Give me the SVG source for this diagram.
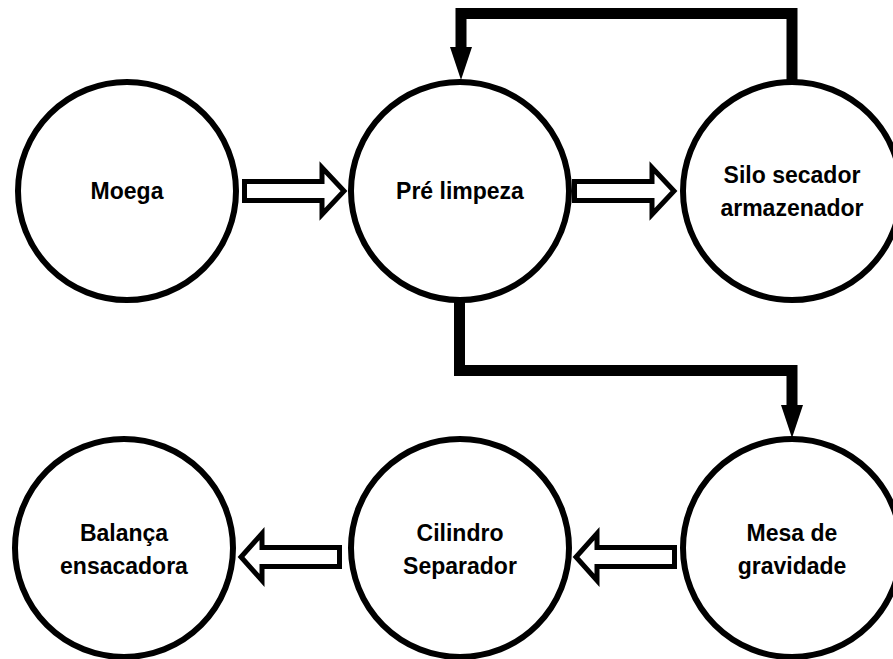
<svg xmlns="http://www.w3.org/2000/svg" width="893" height="659" viewBox="0 0 893 659">
  <style>
    .node { fill: #ffffff; stroke: #000000; stroke-width: 6; }
    .label { font-family: "Liberation Sans", Arial, sans-serif; font-weight: bold; font-size: 23px; fill: #000000; text-anchor: middle; }
    .block { fill: #ffffff; stroke: #000000; stroke-width: 5; stroke-linejoin: miter; }
    .conn { fill: none; stroke: #000000; stroke-width: 11; stroke-linejoin: miter; }
  </style>
  <defs>
    <marker id="head" markerUnits="userSpaceOnUse" markerWidth="33" markerHeight="22" refX="0" refY="11" orient="auto">
      <path d="M0,0 L33,11 L0,22 z" fill="#000000"/>
    </marker>
  </defs>
  <rect x="0" y="0" width="893" height="659" fill="#ffffff"/>

  <g id="connectors">
    <path class="conn" d="M792,82 V13.5 H461 V47" marker-end="url(#head)"/>
    <path class="conn" d="M459.5,300 V370.5 H792 V405" marker-end="url(#head)"/>
    <polygon class="block" points="244.5,181.5 322,181.5 322,167.5 344,191 322,214.5 322,200.5 244.5,200.5"/>
    <polygon class="block" points="574.5,181.5 652,181.5 652,167.5 674,191 652,214.5 652,200.5 574.5,200.5"/>
    <polygon class="block" points="339.5,547.5 262,547.5 262,533.5 241,557 262,580.5 262,566.5 339.5,566.5"/>
    <polygon class="block" points="674.5,547.5 597,547.5 597,533.5 576,557 597,580.5 597,566.5 674.5,566.5"/>
  </g>

  <g id="moega">
    <circle class="node" cx="127" cy="191" r="109"/>
    <text class="label" x="127" y="199">Moega</text>
  </g>
  <g id="pre-limpeza">
    <circle class="node" cx="460" cy="191" r="109"/>
    <text class="label" x="460" y="199">Pré limpeza</text>
  </g>
  <g id="silo">
    <circle class="node" cx="792" cy="191" r="109"/>
    <text class="label" x="792" y="183">Silo secador</text>
    <text class="label" x="792" y="216">armazenador</text>
  </g>
  <g id="mesa">
    <circle class="node" cx="792" cy="548" r="109"/>
    <text class="label" x="792" y="541">Mesa de</text>
    <text class="label" x="792" y="574">gravidade</text>
  </g>
  <g id="cilindro">
    <circle class="node" cx="460" cy="548" r="109"/>
    <text class="label" x="460" y="541">Cilindro</text>
    <text class="label" x="460" y="574">Separador</text>
  </g>
  <g id="balanca">
    <circle class="node" cx="124" cy="548" r="109"/>
    <text class="label" x="124" y="541">Balança</text>
    <text class="label" x="124" y="574">ensacadora</text>
  </g>
</svg>
